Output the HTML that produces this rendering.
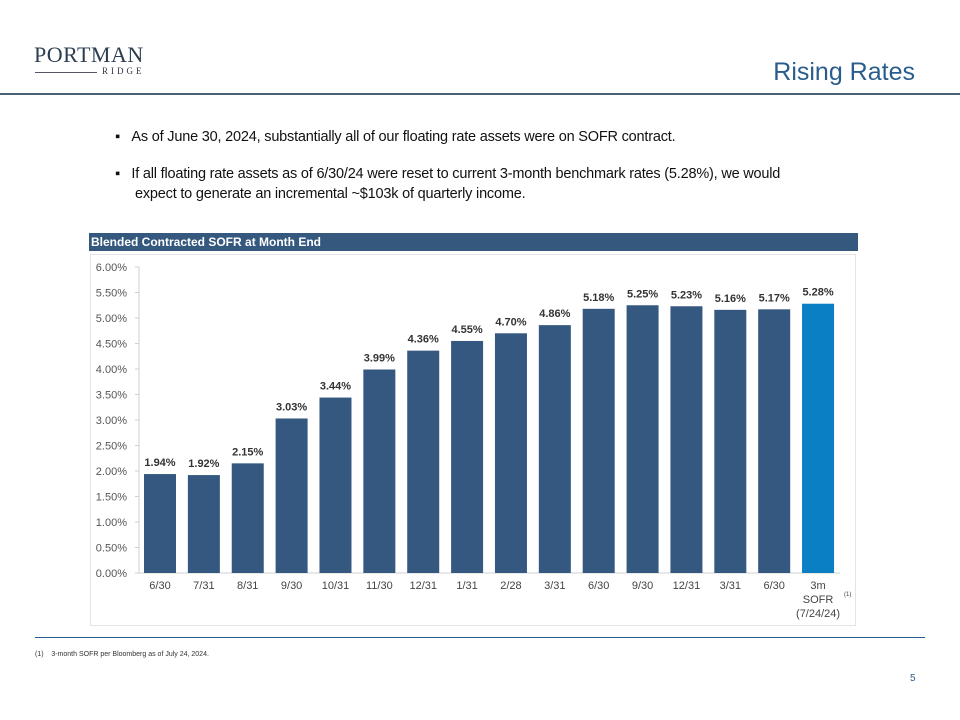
<!DOCTYPE html>
<html><head><meta charset="utf-8"><style>
body{margin:0;width:960px;height:720px;background:#fff;position:relative;overflow:hidden;font-family:"Liberation Sans",sans-serif}
.abs{position:absolute}
</style></head><body>
<div class="abs" style="left:34px;top:43px;width:115px">
 <div style="font-family:'Liberation Serif',serif;font-size:22px;color:#2c3e50;letter-spacing:0.5px;line-height:24px">PORTMAN</div>
 <div style="position:relative;height:12px"><div style="position:absolute;left:1px;top:5px;width:62px;height:1px;background:#556"></div><div style="position:absolute;left:68px;top:-1px;font-family:'Liberation Serif',serif;font-size:9px;letter-spacing:3px;color:#334">RIDGE</div></div>
</div>
<div class="abs" style="right:45px;top:58px;font-size:25px;color:#2a5d8c">Rising Rates</div>
<div class="abs" style="left:0;top:93px;width:960px;height:2px;background:#4a6075"></div>
<div class="abs" style="left:115px;top:129px;font-size:14.5px;color:#111;letter-spacing:-0.2px">▪&nbsp;&nbsp;&nbsp;As of June 30, 2024, substantially all of our floating rate assets were on SOFR contract.</div>
<div class="abs" style="left:115px;top:164px;width:760px;font-size:14.5px;color:#111;line-height:20px;letter-spacing:-0.2px">▪&nbsp;&nbsp;&nbsp;If all floating rate assets as of 6/30/24 were reset to current 3-month benchmark rates (5.28%), we would<br><span style="padding-left:20px">expect to generate an incremental ~$103k of quarterly income.</span></div>
<div class="abs" style="left:89px;top:233px;width:769px;height:18px;background:#35587f;color:#fff;font-weight:bold;font-size:12px;line-height:18px;padding-left:2px;box-sizing:border-box">Blended Contracted SOFR at Month End</div>
<div class="abs" style="left:90px;top:254px;width:766px;height:372px;border:1px solid #e4e4e4;box-sizing:border-box"></div>
<svg class="abs" style="left:0;top:0" width="960" height="720" id="chart"></svg>
<div class="abs" style="left:35px;top:637px;width:890px;height:1px;background:#2a5d8c"></div>
<div class="abs" style="left:35px;top:651px;font-size:7px;color:#333">(1)&nbsp;&nbsp;&nbsp;&nbsp;3-month SOFR per Bloomberg as of July 24, 2024.</div>
<div class="abs" style="left:910px;top:673px;font-size:10px;color:#2a5d8c">5</div>
<script>
const categories=["6/30","7/31","8/31","9/30","10/31","11/30","12/31","1/31","2/28","3/31","6/30","9/30","12/31","3/31","6/30","3m"];
const values=[1.94,1.92,2.15,3.03,3.44,3.99,4.36,4.55,4.70,4.86,5.18,5.25,5.23,5.16,5.17,5.28];
const yTicks=[0,0.5,1,1.5,2,2.5,3,3.5,4,4.5,5,5.5,6];
const svg=document.getElementById('chart');
const NS='http://www.w3.org/2000/svg';
const y0=573,y6=267,x0=160,step=43.87,bw=32;
const Y=v=>y0-(v/6)*(y0-y6);
const X=i=>x0+i*step;
function mk(t,a,txt){const e=document.createElementNS(NS,t);for(const k in a)e.setAttribute(k,a[k]);if(txt!==undefined)e.textContent=txt;svg.appendChild(e);return e;}
let ax=mk('line',{x1:139,y1:Y(6),x2:139,y2:y0,stroke:'#d0d0d0'});


yTicks.forEach(t=>{
 const l=mk('line',{x1:135,x2:139,y1:Y(t),y2:Y(t),stroke:'#d0d0d0'});
 
 
 const tx=mk('text',{x:127,y:Y(t)+4,'text-anchor':'end','font-size':11,fill:'#555','font-family':'Liberation Sans'},t.toFixed(2)+'%');
 
 
});
let bx=mk('line',{x1:139,y1:y0,x2:840,y2:y0,stroke:'#d0d0d0'});


values.forEach((v,i)=>{
 const last=i===values.length-1;
 const r=mk('rect',{x:X(i)-bw/2,y:Y(v),width:bw,height:y0-Y(v),fill:last?'#0a7fc4':'#34587f'});
 
 
 const t=mk('text',{x:X(i),y:Y(v)-8,'text-anchor':'middle','font-size':11,'font-weight':'bold',fill:'#333','font-family':'Liberation Sans'},v.toFixed(2)+'%');
 
 
 const c=mk('text',{x:X(i),y:589,'text-anchor':'middle','font-size':11,fill:'#444','font-family':'Liberation Sans'},categories[i]);
 
 
});
const li=values.length-1;
let s1=mk('text',{x:X(li),y:603,'text-anchor':'middle','font-size':11,fill:'#444','font-family':'Liberation Sans'},'SOFR');


let s2=mk('text',{x:X(li),y:617,'text-anchor':'middle','font-size':11,fill:'#444','font-family':'Liberation Sans'},'(7/24/24)');


let fn=mk('text',{x:X(li)+26,y:596,'font-size':6,fill:'#444','font-family':'Liberation Sans'},'(1)');


</script>
</body></html>
